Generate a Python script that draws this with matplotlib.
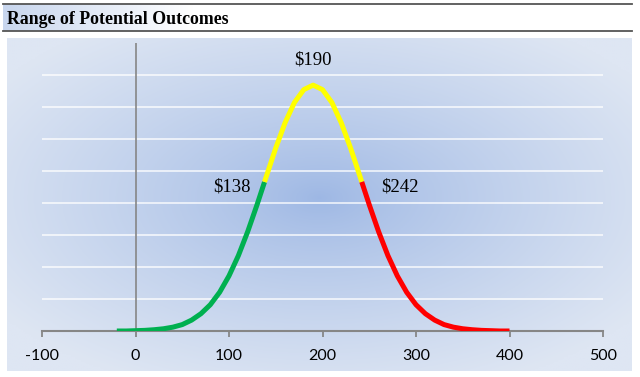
import numpy as np
import matplotlib
matplotlib.use("Agg")
import matplotlib.pyplot as plt
from matplotlib.lines import Line2D

# curve values (density x 1000)
x_vals = [-20, -10, 0, 10, 20, 30, 40, 50, 60, 70, 80, 90, 100, 110, 120, 130, 138,
          140, 150, 160, 170, 180, 190, 200, 210, 220, 230, 240, 242,
          250, 260, 270, 280, 290, 300, 310, 320, 330, 340, 350, 360, 370, 380, 390, 400]
y_vals = [0.00, 0.00, 0.01, 0.02, 0.04, 0.07, 0.12, 0.20, 0.34, 0.54, 0.82, 1.21, 1.72, 2.35, 3.10, 3.94, 4.65,
          4.83, 5.71, 6.50, 7.13, 7.53, 7.67, 7.53, 7.13, 6.50, 5.71, 4.83, 4.65,
          3.94, 3.10, 2.35, 1.72, 1.21, 0.82, 0.54, 0.34, 0.20, 0.12, 0.07, 0.04, 0.02, 0.01, 0.00, 0.00]
low_cut, mid, high_cut = 138, 190, 242
labels = ["$138", "$190", "$242"]
xticks = [-100, 0, 100, 200, 300, 400, 500]

W, H = 640, 377
fig = plt.figure(figsize=(6.4, 3.77), dpi=100)

# radial background panel
bg = fig.add_axes([7 / W, 6 / H, 625 / W, 333 / H])
gx, gy = np.meshgrid(np.linspace(0, 1, 300), np.linspace(0, 1, 200))
d = np.sqrt(((gx - 0.5) / 0.62) ** 2 + ((gy - 0.52) / 0.62) ** 2)
t = np.clip(d, 0, 1) ** 0.8
c_in = np.array([157, 183, 228]) / 255
c_out = np.array([222, 230, 243]) / 255
img = c_in[None, None, :] * (1 - t[..., None]) + c_out[None, None, :] * t[..., None]
bg.imshow(img, aspect="auto", extent=[0, 1, 0, 1], origin="lower")
bg.axis("off")

# title bar gradient
tb = fig.add_axes([3 / W, (H - 31) / H, 190 / W, 27 / H])
tg = np.linspace(0, 1, 200)[None, :]
c1 = np.array([200, 214, 238]) / 255
tb.imshow(c1[None, None, :] * (1 - tg[..., None]) + np.ones(3)[None, None, :] * tg[..., None],
          aspect="auto", extent=[0, 1, 0, 1])
tb.axis("off")
fig.add_artist(Line2D([3 / W, 632 / W], [(H - 4) / H] * 2, color="#555555", lw=1.3))
fig.add_artist(Line2D([3 / W, 632 / W], [(H - 31) / H] * 2, color="#555555", lw=1.3))
fig.text(7 / W, (H - 19) / H, "Range of Potential Outcomes", family="Liberation Serif",
         fontweight="bold", fontsize=12.8, va="center", ha="left")

ax = fig.add_axes([42 / W, (H - 331) / H, 561 / W, 288.5 / H])
ax.set_facecolor("none")
ax.set_xlim(-100, 500)
ax.set_ylim(0, 9)
for g in range(1, 9):
    ax.axhline(g, color="white", lw=1.4, alpha=0.7, zorder=1)
ax.axvline(0, color="#868686", lw=1.2, zorder=2)

xs = np.array(x_vals)
ys = np.array(y_vals)
m1 = xs <= low_cut
m2 = (xs >= low_cut) & (xs <= high_cut)
m3 = xs >= high_cut
ax.plot(xs[m1], ys[m1], color="#00B050", lw=3.6, solid_capstyle="butt", zorder=3)
ax.plot(xs[m2], ys[m2], color="#FFFF00", lw=3.6, solid_capstyle="butt", zorder=3)
ax.plot(xs[m3], ys[m3], color="#FF0000", lw=3.6, solid_capstyle="butt", zorder=3)

tf = dict(family="Liberation Serif", fontsize=13.5, ha="center", va="center")
ax.text(mid, 8.45, labels[1], **tf)
ax.text(low_cut - 35, 4.5, labels[0], **tf)
ax.text(high_cut + 41, 4.5, labels[2], **tf)

for s in ["top", "right", "left"]:
    ax.spines[s].set_visible(False)
ax.spines["bottom"].set_color("#868686")
ax.spines["bottom"].set_linewidth(1.5)
ax.set_yticks([])
ax.set_xticks(xticks)
ax.set_xticklabels([str(v) for v in xticks], family="Lato", fontsize=11.5)
ax.tick_params(axis="x", direction="out", length=4, width=1.3, color="#868686", pad=9)

fig.savefig("out.png", dpi=100)
